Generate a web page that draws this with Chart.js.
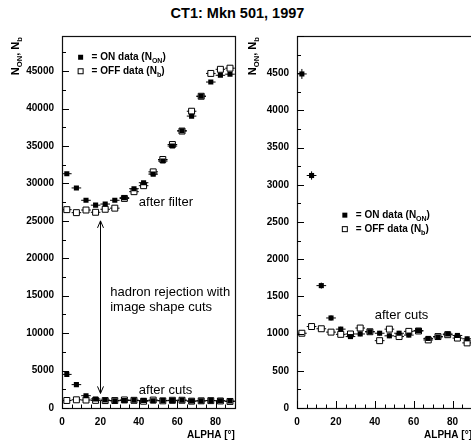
<!DOCTYPE html>
<html>
<head>
<meta charset="utf-8">
<script src="https://cdn.jsdelivr.net/npm/chart.js@4.4.1/dist/chart.umd.min.js"></script>
<style>
html, body { margin: 0; padding: 0; background: #fff; }
#wrap { position: relative; width: 471px; height: 444px; overflow: hidden; }
canvas { position: absolute; top: 0; }
#title { position: absolute; left: 0; top: 5px; width: 475px; text-align: center;
  font: bold 14.5px "Liberation Sans", Arial, sans-serif; line-height: 16px; color: #000; }
</style>
</head>
<body>
<div id="wrap">
  <div id="title">CT1: Mkn 501, 1997</div>
  <canvas id="left" width="240" height="444" style="left:0"></canvas>
  <canvas id="right" width="240" height="444" style="left:240px"></canvas>
</div>
<script>
// ALPHA bin centres (5 degree bins)
const alpha = [2.5, 7.5, 12.5, 17.5, 22.5, 27.5, 32.5, 37.5, 42.5, 47.5, 52.5, 57.5, 62.5, 67.5, 72.5, 77.5, 82.5, 87.5];

// after filter
const onFilter  = [31300, 29400, 27750, 27100, 27250, 27750, 28100, 29300, 30100, 31250, 33000, 35000, 37050, 39000, 41650, 43550, 44450, 44600];
const offFilter = [26500, 26100, 26450, 26150, 26550, 26700, 28000, 28900, 29700, 31550, 33200, 35200, 37000, 39650, 41650, 44700, 45250, 45400];

// after image shape cuts
const onCuts  = [4490, 3125, 1645, 1210, 1060, 960, 995, 1025, 1005, 970, 1005, 980, 1040, 935, 955, 995, 975, 930];
const offCuts = [1005, 1095, 1065, 1020, 990, 995, 1075, 1025, 905, 1060, 960, 1030, 1035, 915, 960, 985, 940, 875];

// axis ticks
const xTicks = [0, 20, 40, 60, 80];
const yTicksLeft = [0, 5000, 10000, 15000, 20000, 25000, 30000, 35000, 40000, 45000];
const yTicksRight = [0, 500, 1000, 1500, 2000, 2500, 3000, 3500, 4000, 4500];

const FONT = '"Liberation Sans", Arial, sans-serif';

const pts = (ys) => alpha.map((a, i) => ({ x: a, y: ys[i] }));

function onSet(ys) {
  return { data: pts(ys), pointStyle: 'rect', pointRadius: 3.6, backgroundColor: '#000', borderColor: '#000', borderWidth: 0 };
}
function offSet(ys) {
  return { data: pts(ys), pointStyle: 'rect', pointRadius: 4.2, backgroundColor: '#fff', borderColor: '#000', borderWidth: 1 };
}

// text with subscripts: parts = [[text, isSub], ...]
function partsWidth(ctx, parts, size) {
  let w = 0;
  parts.forEach(([t, sub]) => {
    ctx.font = 'bold ' + (sub ? size * 0.7 : size) + 'px ' + FONT;
    w += ctx.measureText(t).width;
  });
  return w;
}
function drawParts(ctx, parts, x, y, size) {
  ctx.textBaseline = 'middle';
  ctx.textAlign = 'left';
  parts.forEach(([t, sub]) => {
    ctx.font = 'bold ' + (sub ? size * 0.7 : size) + 'px ' + FONT;
    ctx.fillText(t, x, sub ? y + size * 0.35 : y);
    x += ctx.measureText(t).width;
  });
}

function square(ctx, x, y, filled) {
  if (filled) {
    ctx.fillStyle = '#000';
    ctx.fillRect(x - 2.5, y - 2.5, 5, 5);
  } else {
    ctx.fillStyle = '#fff';
    ctx.fillRect(x - 3, y - 3, 6, 6);
    ctx.strokeStyle = '#000';
    ctx.lineWidth = 1;
    ctx.strokeRect(x - 2.5, y - 2.5, 5, 5);
  }
}

const decor = {
  id: 'decor',
  beforeDatasetsDraw(chart) {
    const ctx = chart.ctx, xs = chart.scales.x, ys = chart.scales.y;
    ctx.save();
    ctx.strokeStyle = '#000';
    ctx.lineWidth = 1;
    chart.data.datasets.forEach((ds) => {
      ds.data.forEach((p) => {
        const e = Math.sqrt(p.y);
        const px = xs.getPixelForValue(p.x), py = ys.getPixelForValue(p.y);
        ctx.beginPath();
        ctx.moveTo(xs.getPixelForValue(p.x - 2.5), py);
        ctx.lineTo(xs.getPixelForValue(p.x + 2.5), py);
        ctx.moveTo(px, ys.getPixelForValue(p.y - e));
        ctx.lineTo(px, ys.getPixelForValue(p.y + e));
        ctx.stroke();
      });
    });
    ctx.restore();
  },
  afterDraw(chart, args, o) {
    const ctx = chart.ctx, xs = chart.scales.x, ys = chart.scales.y, a = chart.chartArea;
    ctx.save();
    // frame
    ctx.strokeStyle = '#111';
    ctx.lineWidth = 1.2;
    ctx.strokeRect(Math.round(a.left) + 0.5, Math.round(a.top) + 0.5, Math.round(a.right - a.left), Math.round(a.bottom - a.top));
    ctx.lineWidth = 1;
    ctx.strokeStyle = '#000';
    // x ticks, major every 20, minor every 5
    ctx.beginPath();
    for (let v = 0; v <= xs.max; v += 5) {
      const px = Math.round(xs.getPixelForValue(v)) + 0.5;
      const len = v % 20 === 0 ? 7 : 3.5;
      ctx.moveTo(px, a.bottom);
      ctx.lineTo(px, a.bottom - len);
    }
    // y ticks, minor at half step
    const step = o.yTicks[1] - o.yTicks[0];
    for (let v = 0; v <= ys.max; v += step / 2) {
      const py = Math.round(ys.getPixelForValue(v)) + 0.5;
      const len = v % step === 0 ? 7 : 4;
      ctx.moveTo(a.left, py);
      ctx.lineTo(a.left + len, py);
    }
    ctx.stroke();
    // tick labels
    ctx.fillStyle = '#000';
    ctx.font = 'bold 10px ' + FONT;
    ctx.textBaseline = 'middle';
    ctx.textAlign = 'center';
    xTicks.forEach((v) => ctx.fillText(String(v), xs.getPixelForValue(v), a.bottom + 14));
    ctx.textAlign = 'right';
    o.yTicks.forEach((v) => ctx.fillText(String(v), a.left - 8, ys.getPixelForValue(v)));
    // axis titles
    ctx.font = 'bold 10px ' + FONT;
    ctx.textAlign = 'right';
    ctx.fillText('ALPHA [\u00B0]', a.right, a.bottom + 27);
    const yt = [['N', false], ['ON', true], [', N', false], ['b', true]];
    const w = partsWidth(ctx, yt, 11);
    ctx.save();
    ctx.translate(o.yTitleX, a.top + 1);
    ctx.rotate(-Math.PI / 2);
    drawParts(ctx, yt, -w, 0, 11);
    ctx.restore();
    // legend
    const lx = xs.getPixelForValue(o.legend.x), ly = ys.getPixelForValue(o.legend.y);
    square(ctx, lx, ly, true);
    square(ctx, lx, ly + 14, false);
    ctx.fillStyle = '#000';
    drawParts(ctx, [['= ON data (N', false], ['ON', true], [')', false]], lx + 11, ly, 10);
    drawParts(ctx, [['= OFF data (N', false], ['b', true], [')', false]], lx + 11, ly + 14, 10);
    // notes
    ctx.font = '13px ' + FONT;
    ctx.textAlign = 'left';
    ctx.textBaseline = 'middle';
    o.notes.forEach((n) => ctx.fillText(n.text, xs.getPixelForValue(n.x), ys.getPixelForValue(n.y)));
    // double arrow
    if (o.arrow) {
      const ax = Math.round(xs.getPixelForValue(o.arrow.x)) + 0.5;
      const y1 = ys.getPixelForValue(o.arrow.y1), y2 = ys.getPixelForValue(o.arrow.y2);
      ctx.beginPath();
      ctx.moveTo(ax, y1); ctx.lineTo(ax, y2);
      ctx.moveTo(ax - 3, y1 + 7); ctx.lineTo(ax, y1); ctx.lineTo(ax + 3, y1 + 7);
      ctx.moveTo(ax - 3, y2 - 7); ctx.lineTo(ax, y2); ctx.lineTo(ax + 3, y2 - 7);
      ctx.stroke();
    }
    ctx.restore();
  }
};

function makeChart(id, datasets, yMax, pad, decorOpts) {
  return new Chart(document.getElementById(id), {
    type: 'scatter',
    data: { datasets },
    options: {
      responsive: false,
      animation: false,
      layout: { padding: pad },
      plugins: { legend: { display: false }, tooltip: { enabled: false }, decor: decorOpts },
      scales: {
        x: { type: 'linear', min: 0, max: 90, display: false },
        y: { type: 'linear', min: 0, max: yMax, display: false }
      }
    },
    plugins: [decor]
  });
}

makeChart('left',
  [onSet(onFilter), offSet(offFilter), onSet(onCuts), offSet(offCuts)],
  49700,
  { left: 62, right: 2, top: 36, bottom: 36 },
  {
    yTicks: yTicksLeft,
    yTitleX: 16,
    legend: { x: 9.7, y: 46860 },
    notes: [
      { text: 'after filter', x: 40, y: 27400 },
      { text: 'hadron rejection with', x: 25.1, y: 15400 },
      { text: 'image shape cuts', x: 25.1, y: 13450 },
      { text: 'after cuts', x: 40, y: 2400 }
    ],
    arrow: { x: 20, y1: 25000, y2: 1950 }
  });

makeChart('right',
  [onSet(onCuts), offSet(offCuts)],
  5000,
  { left: 57, right: 8, top: 36, bottom: 36 },
  {
    yTicks: yTicksRight,
    yTitleX: 13,
    legend: { x: 24.6, y: 2592 },
    notes: [
      { text: 'after cuts', x: 40, y: 1245 }
    ]
  });
</script>
</body>
</html>
